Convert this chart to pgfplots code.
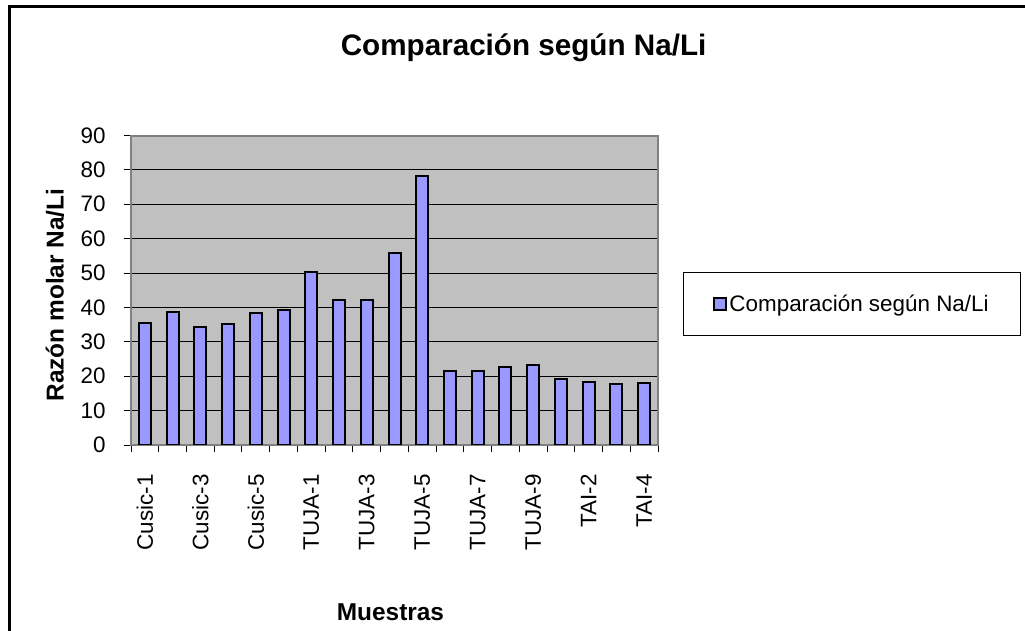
\documentclass[border=0pt]{standalone}
\usepackage{fontspec}
\setmainfont{Liberation Sans}
\usepackage{pgfplots}
\pgfplotsset{compat=1.18}
\definecolor{barblue}{HTML}{9999FF}
\definecolor{plotgray}{HTML}{C0C0C0}
\definecolor{axgray}{HTML}{808080}
\begin{document}
\begin{tikzpicture}[x=1bp,y=1bp]
\useasboundingbox (0,0) rectangle (1025bp,631bp);
\draw[line width=3bp] (9bp,624.5bp) rectangle (1040bp,-10bp);
\begin{axis}[
  at={(131bp,186bp)}, anchor=south west,
  scale only axis, width=527bp, height=309.5bp,
  xmin=-0.5, xmax=18.5, ymin=0, ymax=90,
  ytick={0,10,...,90},
  xtick={-0.5,0.5,...,18.5},
  xticklabels={},
  xtick pos=bottom, ytick pos=left,
  extra x ticks={0,2,...,18},
  extra x tick labels={Cusic-1,Cusic-3,Cusic-5,TUJA-1,TUJA-3,TUJA-5,TUJA-7,TUJA-9,TAI-2,TAI-4},
  extra x tick style={major tick length=0pt, grid=none,
    tick label style={rotate=90, anchor=east, xshift=-26bp}},
  tick align=outside, major tick length=7bp,
  tick style={black, line width=1bp},
  axis line style={axgray, line width=2bp},
  axis background/.style={fill=plotgray},
  ymajorgrids, grid style={black, line width=1bp},
  /pgf/number format/assume math mode=true,
  tick label style={font=\fontsize{22.5}{27}\selectfont},
  yticklabel style={xshift=-15bp},
  title={Comparación según Na/Li},
  title style={at={(axis description cs:0.745,1.263)}, anchor=center, font=\bfseries\fontsize{29.75}{34}\selectfont},
  xlabel={Muestras},
  xlabel style={at={(axis description cs:0.4924,-0.5396)}, anchor=center, font=\bfseries\fontsize{24.5}{29}\selectfont},
  ylabel={Razón molar Na/Li},
  ylabel style={at={(axis description cs:-0.1442,0.4847)}, anchor=center, font=\bfseries\fontsize{24.5}{29}\selectfont},
  legend style={at={(axis description cs:1.0474,0.4556)}, anchor=west, draw=black, line width=1bp, fill=white,
    inner xsep=30bp, inner ysep=21bp, font=\fontsize{22.5}{27}\selectfont},
  legend image code/.code={\draw[#1, line width=2bp] (0bp,-6bp) rectangle (12bp,6bp);},
]
\addplot[ybar, bar width=12bp, fill=barblue, draw=black, line width=2bp] coordinates {
(0,35.4) (1,38.8) (2,34.4) (3,35.3) (4,38.3) (5,39.3) (6,50.4) (7,42.1) (8,42.1) (9,55.7)
(10,78.1) (11,21.5) (12,21.5) (13,22.6) (14,23.2) (15,19.1) (16,18.4) (17,17.7) (18,18.1)};
\addlegendentry{Comparación según Na/Li}
\end{axis}
\end{tikzpicture}
\end{document}
